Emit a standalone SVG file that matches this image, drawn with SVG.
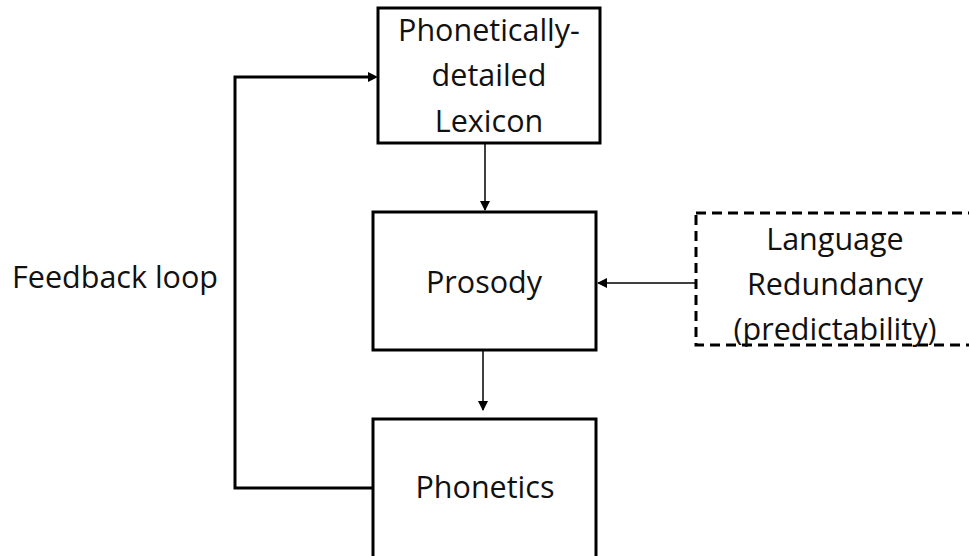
<svg xmlns="http://www.w3.org/2000/svg" width="969" height="556" viewBox="0 0 969 556">
<style>
.box{fill:#fff;stroke:#000;stroke-width:3}
.dash{fill:#fff;stroke:#000;stroke-width:3;stroke-dasharray:10 6}
.t{font-family:"Open Sans","Liberation Sans",sans-serif;font-size:30.5px;fill:#111;text-anchor:middle}
.c{fill:none;stroke:#000;stroke-width:1.5}
.fb{fill:none;stroke:#000;stroke-width:3}
</style>
<defs>
<marker id="ah" markerWidth="10" markerHeight="10" refX="9" refY="5" orient="auto" markerUnits="userSpaceOnUse">
<path d="M0,0 L10,5 L0,10 z" fill="#000"/>
</marker>
</defs>
<rect width="969" height="556" fill="#fff"/>
<g id="connectors">
<line class="c" x1="485" y1="143" x2="485" y2="210" marker-end="url(#ah)"/>
<line class="c" x1="483" y1="350" x2="483" y2="410" marker-end="url(#ah)"/>
<line class="c" x1="696" y1="283" x2="598" y2="283" marker-end="url(#ah)"/>
<path class="fb" d="M373,488 H235 V77 H370"/>
<path d="M368,72 L378,77 L368,82 z" fill="#000"/>
</g>
<g id="feedback-label">
<text class="t" x="115" y="288">Feedback loop</text>
</g>
<g id="lexicon">
<rect class="box" x="378" y="8" width="222" height="135"/>
<text class="t" x="489" y="41">Phonetically-</text>
<text class="t" x="489" y="86">detailed</text>
<text class="t" x="489" y="132">Lexicon</text>
</g>
<g id="prosody">
<rect class="box" x="373" y="212" width="223" height="138"/>
<text class="t" x="484" y="293">Prosody</text>
</g>
<g id="phonetics">
<rect class="box" x="373" y="419" width="223" height="140"/>
<text class="t" x="485" y="498">Phonetics</text>
</g>
<g id="redundancy">
<rect class="dash" x="696" y="213" width="290" height="132"/>
<text class="t" x="835" y="250">Language</text>
<text class="t" x="835" y="295">Redundancy</text>
<text class="t" x="835" y="340">(predictability)</text>
</g>
</svg>
